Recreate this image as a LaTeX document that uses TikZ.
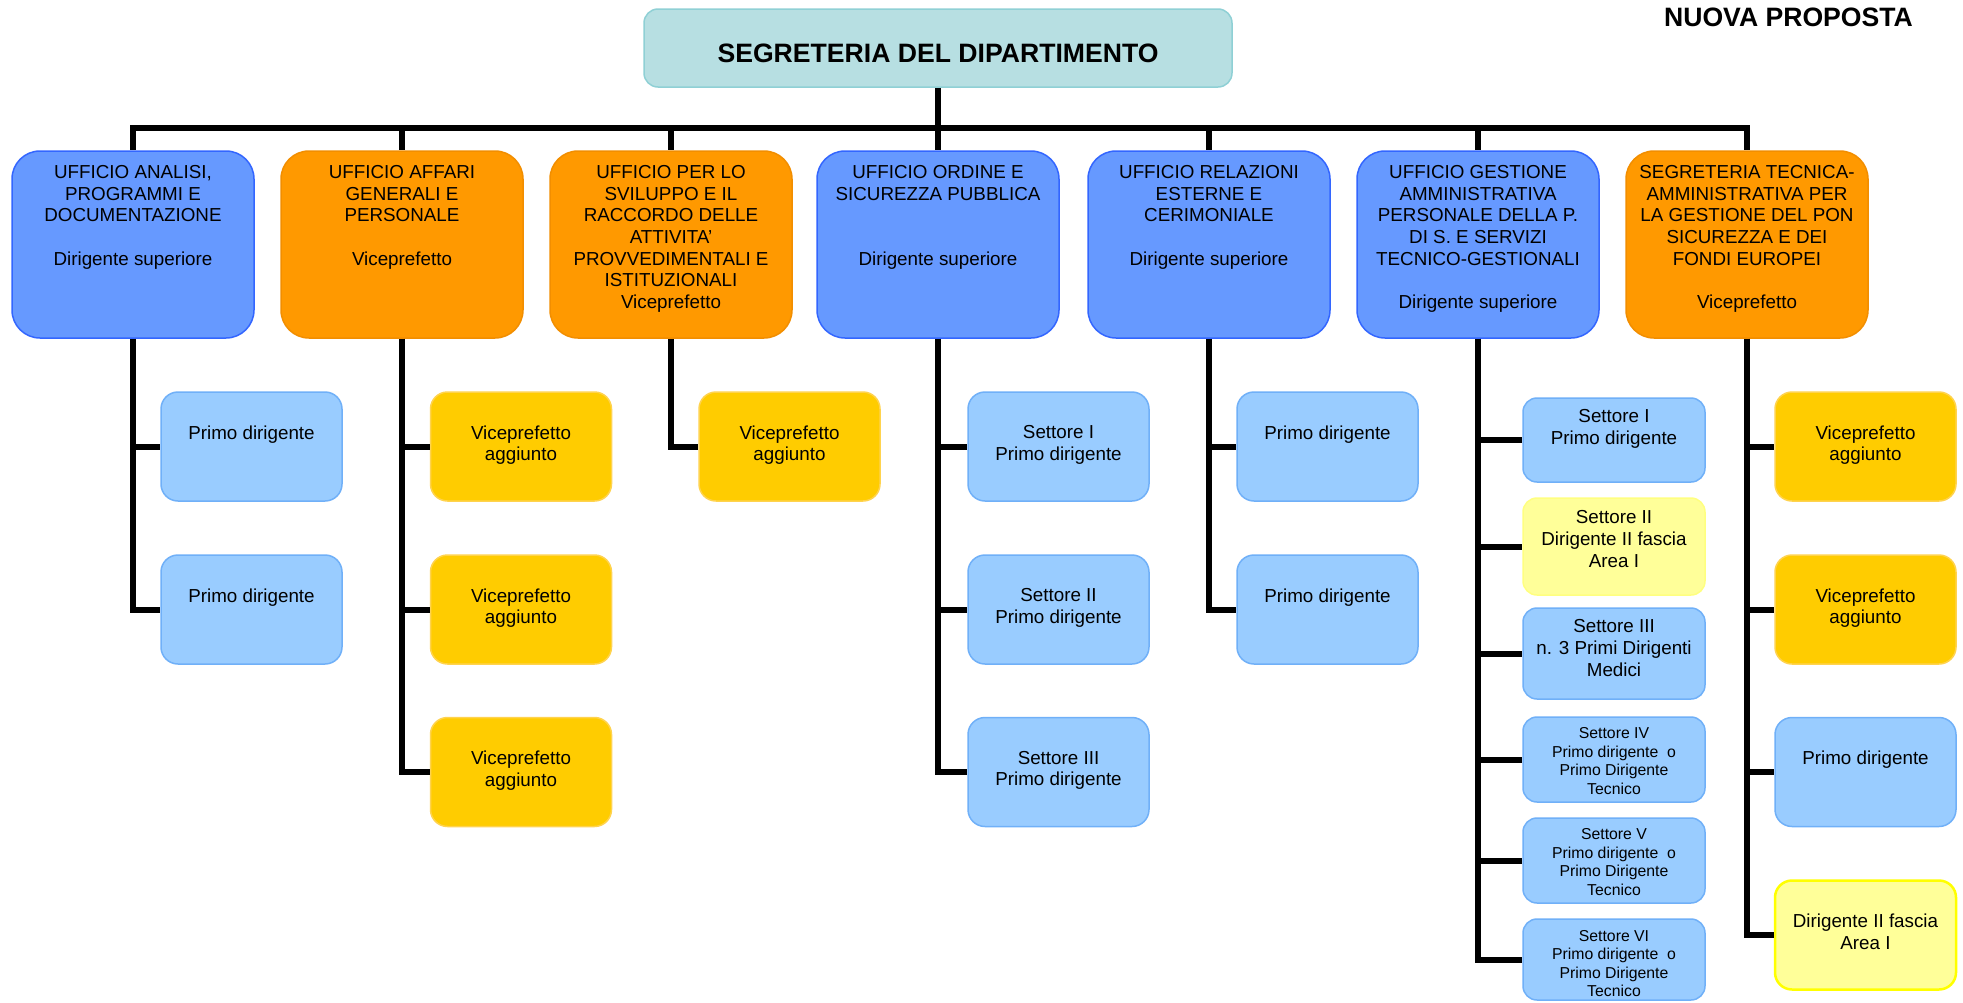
\documentclass[tikz,border=0pt]{standalone}
\usepackage{fontspec}
\setmainfont{Liberation Sans}
\definecolor{topfill}{HTML}{B7DFE2}
\definecolor{topdraw}{HTML}{8FD0D5}
\definecolor{bluefill}{HTML}{6699FF}
\definecolor{bluedraw}{HTML}{3366FF}
\definecolor{orfill}{HTML}{FF9900}
\definecolor{ordraw}{HTML}{F28E00}
\definecolor{lbfill}{HTML}{99CCFF}
\definecolor{lbdraw}{HTML}{70B0F8}
\definecolor{gdfill}{HTML}{FFCC00}
\definecolor{gddraw}{HTML}{FFD34E}
\definecolor{lyfill}{HTML}{FFFF99}
\definecolor{lydraw}{HTML}{FFFF80}
\definecolor{yedraw}{HTML}{FFFF00}
\newcommand\fsA{\fontsize{18.8pt}{21.7pt}\selectfont}
\newcommand\fsS{\fontsize{15.8pt}{18.5pt}\selectfont}
\newcommand\fsT{\bfseries\fontsize{26.6pt}{30pt}\selectfont}
\tikzset{
  conn/.style={line width=6pt, line join=miter},
  topbox/.style={rectangle, rounded corners=14pt, minimum width=588pt, minimum height=78pt, line width=1.5pt, inner sep=0pt, fill=topfill, draw=topdraw},
  lone/.style={rectangle, rounded corners=28pt, minimum width=242pt, minimum height=187pt, line width=1.5pt, inner sep=0pt},
  bluebox/.style={lone, fill=bluefill, draw=bluedraw},
  orbox/.style={lone, fill=orfill, draw=ordraw},
  sub/.style={rectangle, rounded corners=17pt, minimum width=181pt, minimum height=109pt, line width=1.5pt, inner sep=0pt},
  subsix/.style={rectangle, rounded corners=14pt, minimum width=182pt, line width=1.5pt, inner sep=0pt},
  lb/.style={fill=lbfill, draw=lbdraw},
  gd/.style={fill=gdfill, draw=gddraw},
  ly/.style={fill=lyfill, draw=lydraw},
  txt/.style={anchor=north, inner sep=0pt, align=center, font=\fsA},
  txts/.style={anchor=north, inner sep=0pt, align=center, font=\fsS},
  ttl/.style={inner sep=0pt, font=\fsT}
}
\begin{document}
\begin{tikzpicture}[x=1pt,y=-1pt]
\useasboundingbox[fill=white] (0,0) rectangle (1963,1002);

% top
\node[topbox] (top) at (938,48) {};
\node[ttl] (toptxt) at (938,53) {SEGRETERIA DEL DIPARTIMENTO};
\node[ttl] (nuova) at (1788.5,17.5) {NUOVA PROPOSTA};

% level 1
\node[bluebox] (u1) at (133,244.5) {};
\node[orbox]   (u2) at (402,244.5) {};
\node[orbox]   (u3) at (671,244.5) {};
\node[bluebox] (u4) at (938,244.5) {};
\node[bluebox] (u5) at (1209,244.5) {};
\node[bluebox] (u6) at (1478,244.5) {};
\node[orbox]   (u7) at (1747,244.5) {};

\node[txt] (u1t) at (133,165) {UFFICIO ANALISI,\\PROGRAMMI E\\DOCUMENTAZIONE\\[21.7pt]Dirigente superiore};
\node[txt] (u2t) at (402,165) {UFFICIO AFFARI\\GENERALI E\\PERSONALE\\[21.7pt]Viceprefetto};
\node[txt] (u3t) at (671,165) {UFFICIO PER LO\\SVILUPPO E IL\\RACCORDO DELLE\\ATTIVITA’\\PROVVEDIMENTALI E\\ISTITUZIONALI\\Viceprefetto};
\node[txt] (u4t) at (938,165) {UFFICIO ORDINE E\\SICUREZZA PUBBLICA\\[43.4pt]Dirigente superiore};
\node[txt] (u5t) at (1209,165) {UFFICIO RELAZIONI\\ESTERNE E\\CERIMONIALE\\[21.7pt]Dirigente superiore};
\node[txt] (u6t) at (1478,165) {UFFICIO GESTIONE\\AMMINISTRATIVA\\PERSONALE DELLA P.\\DI S. E SERVIZI\\TECNICO-GESTIONALI\\[21.7pt]Dirigente superiore};
\node[txt] (u7t) at (1747,165) {SEGRETERIA TECNICA-\\AMMINISTRATIVA PER\\LA GESTIONE DEL PON\\SICUREZZA E DEI\\FONDI EUROPEI\\[21.7pt]Viceprefetto};

% column 1
\node[sub, lb] (a1) at (251.5,446.5) {};
\node[sub, lb] (a2) at (251.5,609.5) {};
\node[txt] (a1t) at (251.5,425.3) {Primo dirigente};
\node[txt] (a2t) at (251.5,588.3) {Primo dirigente};

% column 2
\node[sub, gd] (b1) at (521,446.5) {};
\node[sub, gd] (b2) at (521,609.5) {};
\node[sub, gd] (b3) at (521,772) {};
\node[txt] (b1t) at (521,425.3) {Viceprefetto\\aggiunto};
\node[txt] (b2t) at (521,588.3) {Viceprefetto\\aggiunto};
\node[txt] (b3t) at (521,750.8) {Viceprefetto\\aggiunto};

% column 3
\node[sub, gd] (c1) at (789.5,446.5) {};
\node[txt] (c1t) at (789.5,425.3) {Viceprefetto\\aggiunto};

% column 4
\node[sub, lb] (d1) at (1058.5,446.5) {};
\node[sub, lb] (d2) at (1058.5,609.5) {};
\node[sub, lb] (d3) at (1058.5,772) {};
\node[txt] (d1t) at (1058.5,425.3) {Settore I\\Primo dirigente};
\node[txt] (d2t) at (1058.5,588.3) {Settore II\\Primo dirigente};
\node[txt] (d3t) at (1058.5,750.8) {Settore III\\Primo dirigente};

% column 5
\node[sub, lb] (e1) at (1327.5,446.5) {};
\node[sub, lb] (e2) at (1327.5,609.5) {};
\node[txt] (e1t) at (1327.5,425.3) {Primo dirigente};
\node[txt] (e2t) at (1327.5,588.3) {Primo dirigente};

% column 6
\node[subsix, lb, minimum height=84pt] (f1) at (1614,440) {};
\node[subsix, ly, minimum height=97pt] (f2) at (1614,546.5) {};
\node[subsix, lb, minimum height=91pt] (f3) at (1614,653.5) {};
\node[subsix, lb, minimum height=85pt] (f4) at (1614,759.5) {};
\node[subsix, lb, minimum height=85pt] (f5) at (1614,860.5) {};
\node[subsix, lb, minimum height=81pt] (f6) at (1614,959.5) {};
\node[txt] (f1t) at (1614,409.3) {Settore I\\Primo dirigente};
\node[txt] (f2t) at (1614,510.3) {Settore II\\Dirigente II fascia\\Area I};
\node[txt] (f3t) at (1614,619.3) {Settore III\\n. 3 Primi Dirigenti\\Medici};
\node[txts] (f4t) at (1614,727.3) {Settore IV\\Primo dirigente\ \ o\\Primo Dirigente\\Tecnico};
\node[txts] (f5t) at (1614,828.3) {Settore V\\Primo dirigente\ \ o\\Primo Dirigente\\Tecnico};
\node[txts] (f6t) at (1614,930) {Settore VI\\Primo dirigente\ \ o\\Primo Dirigente\\Tecnico};

% column 7
\node[sub, gd] (g1) at (1865.5,446.5) {};
\node[sub, gd] (g2) at (1865.5,609.5) {};
\node[sub, lb] (g3) at (1865.5,772) {};
\node[sub, fill=lyfill, draw=yedraw, line width=2.5pt] (g4) at (1865.5,935) {};
\node[txt] (g1t) at (1865.5,425.3) {Viceprefetto\\aggiunto};
\node[txt] (g2t) at (1865.5,588.3) {Viceprefetto\\aggiunto};
\node[txt] (g3t) at (1865.5,750.8) {Primo dirigente};
\node[txt] (g4t) at (1865.5,913.8) {Dirigente II fascia\\Area I};

% connectors
\coordinate (bus) at (938,127.5);
\draw[conn] (top.south) -- (bus);
\foreach \u in {u1,u2,u3,u4,u5,u6,u7}
  \draw[conn] (bus) -| (\u.north);

\draw[conn] (u1.south) |- (a1.west);
\draw[conn] (u1.south) |- (a2.west);
\draw[conn] (u2.south) |- (b1.west);
\draw[conn] (u2.south) |- (b2.west);
\draw[conn] (u2.south) |- (b3.west);
\draw[conn] (u3.south) |- (c1.west);
\draw[conn] (u4.south) |- (d1.west);
\draw[conn] (u4.south) |- (d2.west);
\draw[conn] (u4.south) |- (d3.west);
\draw[conn] (u5.south) |- (e1.west);
\draw[conn] (u5.south) |- (e2.west);
\foreach \f in {f1,f2,f3,f4,f5,f6}
  \draw[conn] (u6.south) |- (\f.west);
\foreach \g in {g1,g2,g3,g4}
  \draw[conn] (u7.south) |- (\g.west);
\end{tikzpicture}
\end{document}
